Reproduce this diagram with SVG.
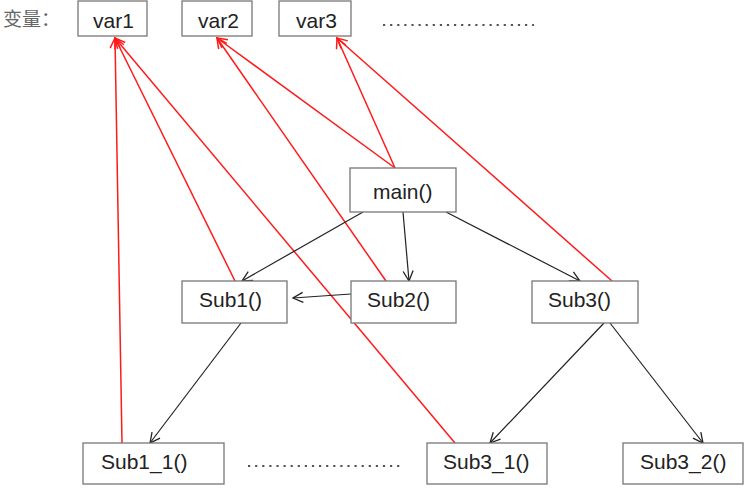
<svg xmlns="http://www.w3.org/2000/svg" width="753" height="493" viewBox="0 0 753 493">
<defs>
<style>
.box{fill:#fff;stroke:#777;stroke-width:1.3}
.t{font-family:"Liberation Sans",Arial,sans-serif;font-size:21px;fill:#222}
.blk{stroke:#222;stroke-width:1.2;fill:none}
.red{stroke:#ff1a1a;stroke-width:1.5;fill:none}
.dots{stroke:#555;stroke-width:2.2;stroke-dasharray:2.2 4.9;fill:none}
</style>
<marker id="ab" viewBox="0 0 12 12" refX="11" refY="6" markerWidth="12" markerHeight="12" markerUnits="userSpaceOnUse" orient="auto">
<path d="M1,1 L11,6 L1,11" fill="none" stroke="#222" stroke-width="1.3"/>
</marker>
<marker id="ar" viewBox="0 0 12 12" refX="11" refY="6" markerWidth="12" markerHeight="12" markerUnits="userSpaceOnUse" orient="auto">
<path d="M1,1 L11,6 L1,11" fill="none" stroke="#ff1a1a" stroke-width="1.5"/>
</marker>
</defs>
<rect width="753" height="493" fill="#fff"/>
<text x="3" y="26" font-family="'Noto Sans CJK SC',sans-serif" font-size="19" fill="#666">变量：</text>
<g id="connectors">
<line class="red" x1="122" y1="443" x2="115" y2="38" marker-end="url(#ar)"/>
<line class="red" x1="235" y1="281" x2="115" y2="38" marker-end="url(#ar)"/>
<line class="red" x1="455" y1="443" x2="115" y2="38" marker-end="url(#ar)"/>
<line class="red" x1="386" y1="281" x2="217" y2="38" marker-end="url(#ar)"/>
<line class="red" x1="395" y1="168" x2="217" y2="38" marker-end="url(#ar)"/>
<line class="red" x1="395" y1="168" x2="337" y2="38" marker-end="url(#ar)"/>
<line class="red" x1="612" y1="281" x2="337" y2="38" marker-end="url(#ar)"/>
<line class="blk" x1="363" y1="212" x2="242" y2="281" marker-end="url(#ab)"/>
<line class="blk" x1="403" y1="212" x2="409" y2="281" marker-end="url(#ab)"/>
<line class="blk" x1="446" y1="212" x2="580" y2="281" marker-end="url(#ab)"/>
<line class="blk" x1="351" y1="294" x2="293" y2="298" marker-end="url(#ab)"/>
<line class="blk" x1="241" y1="323" x2="150" y2="443" marker-end="url(#ab)"/>
<line class="blk" x1="604" y1="323" x2="490" y2="443" marker-end="url(#ab)"/>
<line class="blk" x1="610" y1="323" x2="703" y2="443" marker-end="url(#ab)"/>
</g>
<g id="var1"><rect class="box" x="78" y="1" width="69" height="35"/><text class="t" x="93" y="28">var1</text></g>
<g id="var2"><rect class="box" x="182" y="1" width="70" height="35"/><text class="t" x="198" y="28">var2</text></g>
<g id="var3"><rect class="box" x="279" y="1" width="72" height="35"/><text class="t" x="296" y="28">var3</text></g>
<path class="dots" d="M383,25 H534"/>
<g id="main"><rect class="box" x="350" y="168" width="106" height="44"/><text class="t" x="373" y="199">main()</text></g>
<g id="sub1"><rect class="box" x="182" y="281" width="105" height="42"/><text class="t" x="199" y="307">Sub1()</text></g>
<g id="sub2"><rect class="box" x="351" y="281" width="105" height="42"/><text class="t" x="367" y="307">Sub2()</text></g>
<g id="sub3"><rect class="box" x="532" y="281" width="106" height="42"/><text class="t" x="548" y="307">Sub3()</text></g>
<g id="sub1_1"><rect class="box" x="83" y="443" width="141" height="41"/><text class="t" x="101" y="469">Sub1_1()</text></g>
<path class="dots" d="M248,466 H401"/>
<g id="sub3_1"><rect class="box" x="427" y="443" width="120" height="41"/><text class="t" x="443" y="469">Sub3_1()</text></g>
<g id="sub3_2"><rect class="box" x="623" y="443" width="120" height="41"/><text class="t" x="640" y="469">Sub3_2()</text></g>
</svg>
